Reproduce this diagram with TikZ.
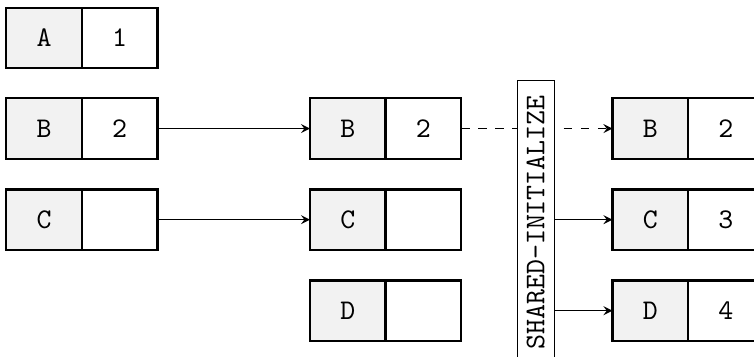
\documentclass[tikz,border=0pt]{standalone}
\usetikzlibrary{arrows}

\tikzset{
  keycell/.style={draw, thick, fill=gray!10, minimum width=0.932cm,
                  minimum height=0.747cm, outer sep=0pt, font=\ttfamily},
  valcell/.style={draw, thick, minimum width=0.932cm,
                  minimum height=0.747cm, outer sep=0pt, anchor=west, font=\ttfamily},
}

\begin{document}
\begin{tikzpicture}[>=stealth]
  \useasboundingbox (0,0) rectangle (9.30,-4.393);
  % old slots
  \node[keycell] (A) at (0.543,-0.469) {A};
  \node[valcell] (Av) at (A.east) {1};
  \node[keycell] (B) at (0.543,-1.586) {B};
  \node[valcell] (Bv) at (B.east) {2};
  \node[keycell] (C) at (0.543,-2.709) {C};
  \node[valcell] (Cv) at (C.east) {};
  % new slots, before initialization
  \node[keycell] (mB) at (4.29,-1.586) {B};
  \node[valcell] (mBv) at (mB.east) {2};
  \node[keycell] (mC) at (4.29,-2.709) {C};
  \node[valcell] (mCv) at (mC.east) {};
  \node[keycell] (mD) at (4.29,-3.832) {D};
  \node[valcell] (mDv) at (mD.east) {};
  % new slots, after initialization
  \node[keycell] (rB) at (8.02,-1.586) {B};
  \node[valcell] (rBv) at (rB.east) {2};
  \node[keycell] (rC) at (8.02,-2.709) {C};
  \node[valcell] (rCv) at (rC.east) {3};
  \node[keycell] (rD) at (8.02,-3.832) {D};
  \node[valcell] (rDv) at (rD.east) {4};

  \draw[->] (Bv.east) -- (mB.west);
  \draw[->] (Cv.east) -- (mC.west);
  \draw[->, dashed] (mBv.east) -- (rB.west);

  \node[draw, fill=white, rotate=90, anchor=east, font=\ttfamily,
        minimum width=3.5cm] (init) at (6.608,-0.987) {SHARED-INITIALIZE};
  \draw[->] (init.south |- rC.west) -- (rC.west);
  \draw[->] (init.south |- rD.west) -- (rD.west);
\end{tikzpicture}
\end{document}
